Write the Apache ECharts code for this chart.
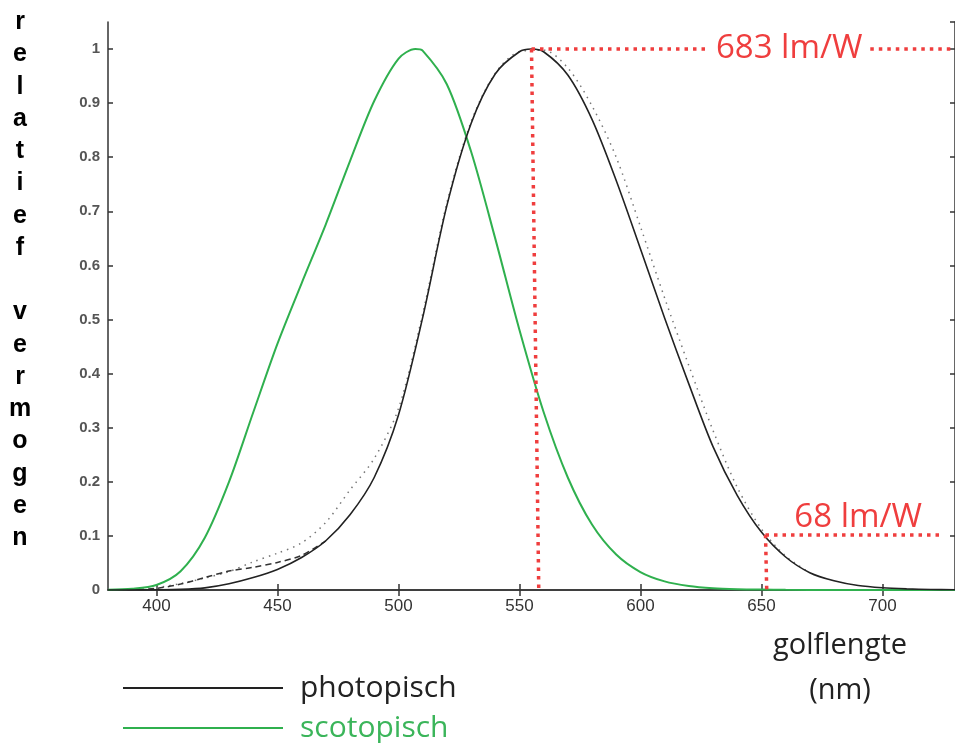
<!DOCTYPE html>
<html>
<head>
<meta charset="utf-8">
<script src="https://cdn.jsdelivr.net/npm/echarts@6/dist/echarts.min.js"></script>
<style>
html,body{margin:0;padding:0;background:#fff;}
#chart{width:955px;height:743px;}
</style>
</head>
<body>
<div id="chart"></div>
<script>
// ---- data ----
const xTicks = [400, 450, 500, 550, 600, 650, 700];

const photopicNm = [380,390,400,410,420,430,440,450,460,470,480,490,500,510,520,530,540,550,555,560,570,580,590,600,610,620,630,640,650,660,670,680,690,700,710,720,730];
const photopicV  = [0,0.0001,0.0004,0.0012,0.004,0.0116,0.023,0.038,0.06,0.091,0.139,0.208,0.323,0.503,0.71,0.862,0.954,0.995,1.0,0.995,0.952,0.87,0.757,0.631,0.503,0.381,0.265,0.175,0.107,0.061,0.032,0.017,0.0082,0.0041,0.0021,0.001,0.0005];

const scotopicNm = [380,390,400,410,420,430,440,450,460,470,480,490,500,507,510,520,530,540,550,560,570,580,590,600,610,620,630,640,650,660,680,700,730];
const scotopicV  = [0.0006,0.0022,0.0093,0.0348,0.0966,0.1998,0.3281,0.455,0.567,0.676,0.793,0.904,0.982,1.0,0.997,0.935,0.811,0.65,0.481,0.329,0.208,0.121,0.0655,0.0332,0.0159,0.0074,0.0033,0.0015,0.0007,0.0003,0.0001,0,0];

const dottedNm = [400,410,420,430,440,450,460,470,480,490,500,510,520,530,540,550,560,570,580,590,600,610,620,630,640,650,660,670];
const dottedV  = [0.004,0.012,0.022,0.034,0.052,0.068,0.087,0.125,0.185,0.243,0.335,0.51,0.715,0.865,0.955,0.995,0.998,0.965,0.895,0.80,0.672,0.54,0.415,0.295,0.19,0.113,0.063,0.032];

const dashedNm = [380,390,400,410,420,430,440,450,460,470];
const dashedV  = [0.0002,0.0008,0.003,0.011,0.023,0.035,0.042,0.051,0.064,0.091];

const peakLabel = '683 lm/W';
const lowLabel  = '68 lm/W';

function pairs(xs, ys){ return xs.map((x,i)=>[x, ys[i]]); }

const RED = '#ef3e3e';
const redLine = {color: RED, width: 3.5, type: [3.5, 5]};

const legendBase = {
  orient: 'vertical', left: 118,
  itemWidth: 160, itemHeight: 2, icon: 'rect',
  textStyle: {fontFamily: 'Open Sans', fontSize: 30, padding: [0,0,0,12]}
};

const chart = echarts.init(document.getElementById('chart'), null, {renderer:'canvas'});
const option = {
  backgroundColor: '#fff',
  animation: false,
  grid: {left: 108, top: 22, right: -3, bottom: 153},
  legend: [
    Object.assign({}, legendBase, {top: 668, data: [{name: 'photopisch', textStyle: {color: '#222'}}]}),
    Object.assign({}, legendBase, {top: 708, data: [{name: 'scotopisch', textStyle: {color: '#3bb55a'}}]})
  ],
  xAxis: [{
    type: 'value', min: 380, max: 730, position: 'bottom',
    axisLine: {lineStyle: {color: '#333', width: 1.5}},
    axisTick: {inside: true, length: 6, customValues: xTicks, lineStyle: {color: '#333', width: 1.5}},
    axisLabel: {customValues: xTicks, color: '#333', fontSize: 17, fontFamily: 'Liberation Sans', margin: 8},
    splitLine: {show: false}
  },{
    type: 'value', min: 380, max: 730, position: 'top',
    axisLine: {lineStyle: {color: '#333', width: 1.5}},
    axisTick: {inside: true, length: 6, customValues: xTicks, lineStyle: {color: '#333', width: 1.5}},
    axisLabel: {show: false},
    splitLine: {show: false}
  }],
  yAxis: [{
    type: 'value', min: 0, max: 1.05, interval: 0.1, position: 'left',
    axisLine: {show: true, lineStyle: {color: '#333', width: 1.5}},
    axisTick: {show: true, inside: true, length: 5, lineStyle: {color: '#333', width: 1.5}},
    axisLabel: {color: '#555', fontSize: 15, fontWeight: 'bold', fontFamily: 'Liberation Sans', margin: 8,
      showMaxLabel: false,
      formatter: v => v > 1.0001 ? '' : String(Math.round(v*10)/10)},
    splitLine: {show: false}
  },{
    type: 'value', min: 0, max: 1.05, interval: 0.1, position: 'right',
    axisLine: {show: true, lineStyle: {color: '#333', width: 1.5}},
    axisTick: {show: true, inside: true, length: 5, lineStyle: {color: '#333', width: 1.5}},
    axisLabel: {show: false},
    splitLine: {show: false}
  }],
  series: [
    {
      name: 'dotted', type: 'line', data: pairs(dottedNm, dottedV), smooth: 0.3,
      showSymbol: false, lineStyle: {color: '#777', width: 1.5, type: [1.5, 5]}, z: 2
    },
    {
      name: 'dashed', type: 'line', data: pairs(dashedNm, dashedV), smooth: 0.3,
      showSymbol: false, lineStyle: {color: '#333', width: 1.5, type: [6, 4]}, z: 2
    },
    {
      name: 'scotopisch', type: 'line', data: pairs(scotopicNm, scotopicV), smooth: 0.3,
      showSymbol: false, color: '#2fb04e', lineStyle: {color: '#2fb04e', width: 2}, z: 3
    },
    {
      name: 'photopisch', type: 'line', data: pairs(photopicNm, photopicV), smooth: 0.3,
      showSymbol: false, color: '#222', lineStyle: {color: '#222', width: 1.6}, z: 4,
      markLine: {
        silent: true, symbol: ['none','none'], label: {show: false}, lineStyle: redLine,
        data: [
          [{coord: [555, 1]}, {coord: [558, 0]}],
          [{coord: [555, 1]}, {coord: [628, 1]}],
          [{coord: [695, 1]}, {coord: [729, 1]}],
          [{coord: [651.7, 0.102]}, {coord: [652.2, 0]}],
          [{coord: [651.7, 0.102]}, {coord: [725, 0.102]}]
        ]
      },
      markPoint: {
        silent: true, symbol: 'circle', symbolSize: 0,
        label: {show: true, position: 'inside', color: RED, fontSize: 33, fontFamily: 'Open Sans'},
        data: [
          {coord: [661.5, 1], value: peakLabel, label: {formatter: peakLabel}},
          {coord: [690, 0.133], value: lowLabel, label: {formatter: lowLabel}}
        ]
      }
    }
  ],
  graphic: [
    {
      type: 'text', x: 20, y: 6,
      style: {
        text: 'relatief vermogen'.split('').join('\n'),
        font: 'bold 25px "Liberation Sans"', fill: '#000',
        lineHeight: 32.25, align: 'center', verticalAlign: 'top'
      }
    },
    {
      type: 'text', x: 840, y: 623,
      style: {
        text: 'golflengte\n(nm)', font: '29px "Open Sans"', fill: '#222',
        lineHeight: 45, align: 'center', verticalAlign: 'top'
      }
    }
  ]
};
chart.setOption(option);
</script>
</body>
</html>
